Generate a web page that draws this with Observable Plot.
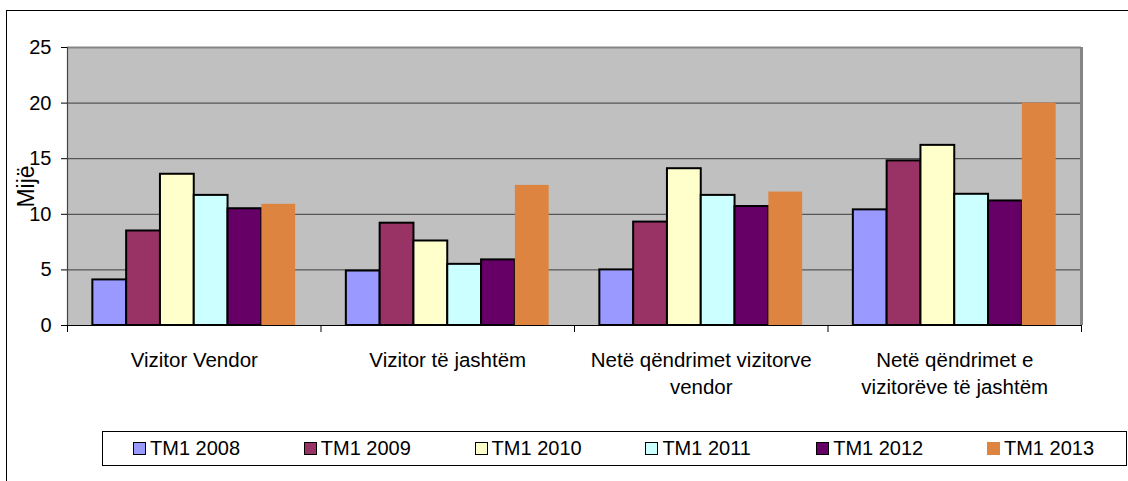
<!DOCTYPE html>
<html>
<head>
<meta charset="utf-8">
<script src="https://cdn.jsdelivr.net/npm/d3@7"></script>
<script src="https://cdn.jsdelivr.net/npm/@observablehq/plot@0.6"></script>
<style>
  html, body { margin: 0; padding: 0; width: 1128px; height: 481px; overflow: hidden; background: #fff;
    font-family: "Liberation Sans", Arial, sans-serif; }
  #border { position: absolute; left: 6px; top: 10px; width: 1300px; height: 700px;
    border-left: 1.5px solid #000; border-top: 1.5px solid #000; }
  #chart { position: absolute; left: 0; top: 0; }
  #legend { position: absolute; left: 102px; top: 431px; width: 1025px; height: 35px; box-sizing: border-box;
    border: 1px solid #000; background: #fff; display: flex; align-items: center; padding-left: 30px; }
  .item { width: 170.8px; display: flex; align-items: center; font-size: 20px; color: #000; flex: none; }
  .sw { width: 13px; height: 13px; box-sizing: border-box; border: 1.5px solid #000; margin-right: 4px; }
</style>
</head>
<body>
<div id="border"></div>
<div id="chart"></div>
<div id="legend"></div>
<script>
const categories = [
  "Vizitor Vendor",
  "Vizitor të jashtëm",
  "Netë qëndrimet vizitorve\nvendor",
  "Netë qëndrimet e\nvizitorëve të jashtëm"
];
const seriesNames = ["TM1 2008", "TM1 2009", "TM1 2010", "TM1 2011", "TM1 2012", "TM1 2013"];
const v2008 = [4.1, 4.9, 5.0, 10.4];
const v2009 = [8.5, 9.2, 9.3, 14.8];
const v2010 = [13.6, 7.6, 14.1, 16.2];
const v2011 = [11.7, 5.5, 11.7, 11.8];
const v2012 = [10.5, 5.9, 10.7, 11.2];
const v2013 = [10.9, 12.6, 12.0, 20.0];
const seriesColors = ["#9999FF", "#993366", "#FFFFCC", "#CCFFFF", "#660066", "#DC8440"];
const yTicks = [0, 5, 10, 15, 20, 25];
const yLabel = "Mijë";

const seriesValues = [v2008, v2009, v2010, v2011, v2012, v2013];
const rows = seriesValues.flatMap((vals, si) =>
  vals.map((value, ci) => ({ series: seriesNames[si], si, ci, category: categories[ci], value }))
);

// bar slot layout within each category band (80% of band, 10% padding each side)
const nS = seriesNames.length;
const slot = 0.8 / nS;
const x1 = d => d.ci + 0.1 + d.si * slot;
const x2 = d => d.ci + 0.1 + (d.si + 1) * slot;

const lastName = seriesNames[nS - 1];

const plot = Plot.plot({
  width: 1128,
  height: 420,
  marginLeft: 67,
  marginRight: 47,
  marginTop: 47,
  marginBottom: 95,
  style: { fontFamily: "Liberation Sans, Arial, sans-serif", background: "transparent", overflow: "visible", color: "#000" },
  x: { domain: [0, categories.length], axis: null },
  y: { domain: [yTicks[0], yTicks[yTicks.length - 1]], axis: null },
  color: { domain: seriesNames, range: seriesColors },
  marks: [
    Plot.frame({ fill: "#C0C0C0" }),
    Plot.ruleY(yTicks.slice(1, -1), { stroke: "#3c3c3c", strokeWidth: 1 }),
    Plot.ruleY([yTicks[yTicks.length - 1]], { stroke: "#858585", strokeWidth: 2 }),
    Plot.ruleX([categories.length], { stroke: "#858585", strokeWidth: 3 }),
    Plot.rectY(rows.filter(d => d.series !== lastName), {
      x1, x2, y1: 0, y2: "value", fill: "series", stroke: "#000", strokeWidth: 2
    }),
    Plot.rectY(rows.filter(d => d.series === lastName), {
      x1, x2, y1: 0, y2: "value", fill: "series"
    }),
    Plot.ruleX([0], { stroke: "#444", strokeWidth: 1.2 }),
    Plot.ruleY([0], { stroke: "#000", strokeWidth: 1.2 }),
    Plot.axisY({ ticks: yTicks, tickSize: 6, tickPadding: 10, fontSize: 20, label: null, stroke: "#000" }),
    Plot.axisX({ ticks: d3.range(categories.length + 1), tickSize: 7, tickFormat: () => "", label: null, stroke: "#000" }),
    Plot.text(categories, {
      x: (d, i) => i + 0.5, y: 0, dy: 23, lineAnchor: "top", lineHeight: 1.3, fontSize: 20.5, fill: "#000"
    }),
    Plot.text([yLabel], { frameAnchor: "left", textAnchor: "middle", rotate: -90, dx: -41, fontSize: 23, fill: "#000" })
  ]
});
document.getElementById("chart").appendChild(plot);

const legend = d3.select("#legend");
seriesNames.forEach((name, i) => {
  const item = legend.append("div").attr("class", "item");
  item.append("div").attr("class", "sw")
    .style("background", seriesColors[i])
    .style("border-color", name === lastName ? seriesColors[i] : "#000");
  item.append("span").text(name);
});
</script>
</body>
</html>
